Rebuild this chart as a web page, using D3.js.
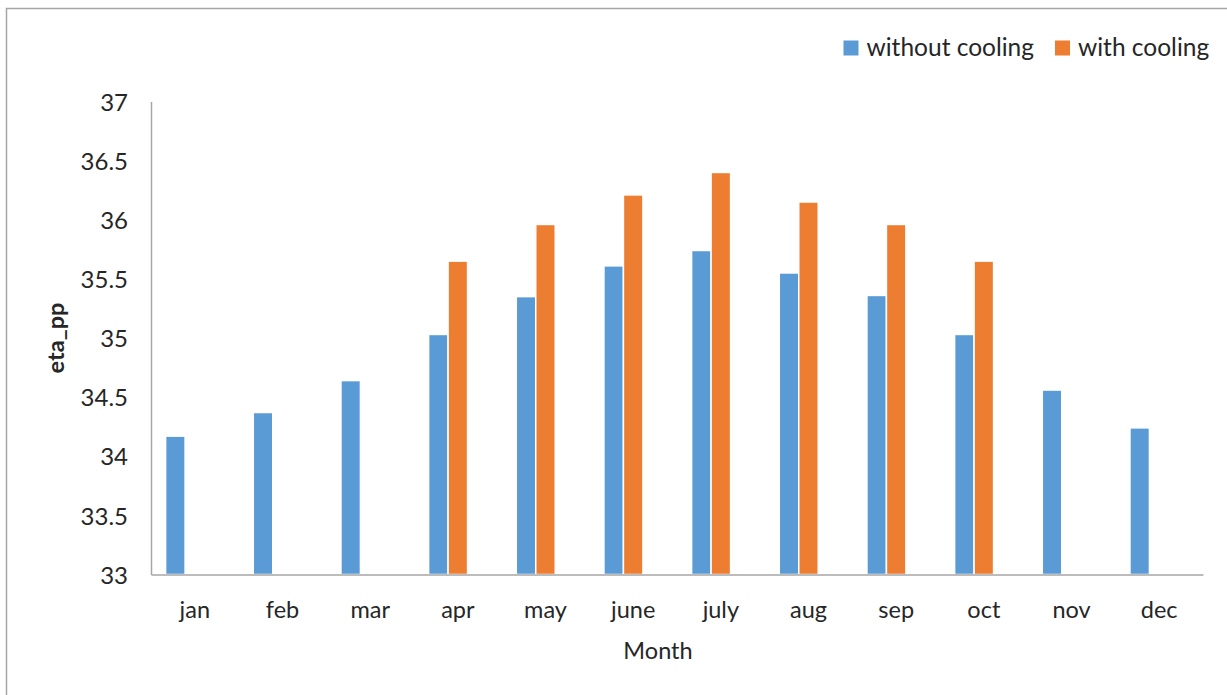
<!DOCTYPE html>
<html>
<head>
<meta charset="utf-8">
<script src="https://cdn.jsdelivr.net/npm/d3@7"></script>
<style>
  html, body { margin: 0; padding: 0; background: #fff; }
  svg { display: block; }
  text { font-family: Lato, "Open Sans", sans-serif; fill: #262626; }
</style>
</head>
<body>
<svg id="chart" width="1227" height="695"></svg>
<script>
const months = ["jan","feb","mar","apr","may","june","july","aug","sep","oct","nov","dec"];
const withoutCooling = [34.17, 34.37, 34.64, 35.03, 35.35, 35.61, 35.74, 35.55, 35.36, 35.03, 34.56, 34.24];
const withCooling = [null, null, null, 35.65, 35.96, 36.21, 36.40, 36.15, 35.96, 35.65, null, null];
const yTicks = [33, 33.5, 34, 34.5, 35, 35.5, 36, 36.5, 37];
const seriesNames = ["without cooling", "with cooling"];
const seriesColors = ["#5b9bd5", "#ed7d31"];

const svg = d3.select("#chart");
const W = 1227, H = 695;
const m = { left: 151, right: 1203, top: 101.5, bottom: 574.5 };

// outer frame
svg.append("rect")
  .attr("x", 6.5).attr("y", 8.5)
  .attr("width", W + 20).attr("height", H + 20)
  .attr("fill", "none").attr("stroke", "#a6a6a6").attr("stroke-width", 1.5);

const x0 = d3.scaleBand().domain(months).range([m.left, m.right])
  .paddingInner(1/3).paddingOuter(1/6);
// three slots per group (third slot is an empty series, as in the source)
const x1 = d3.scaleBand().domain([0, 1, 2]).range([0, x0.bandwidth()]);
const y = d3.scaleLinear().domain([33, 37]).range([m.bottom, m.top]);

const data = months.map((mo, i) => ({ mo, vals: [withoutCooling[i], withCooling[i]] }));

const groups = svg.append("g").selectAll("g").data(data).join("g")
  .attr("transform", d => `translate(${x0(d.mo)},0)`);
groups.selectAll("rect")
  .data(d => d.vals.map((v, k) => ({ v, k })).filter(e => e.v != null))
  .join("rect")
  .attr("x", e => x1(e.k))
  .attr("width", x1.bandwidth())
  .attr("y", e => y(e.v))
  .attr("height", e => y(33) - y(e.v))
  .attr("fill", e => seriesColors[e.k])
  .attr("stroke", "#ffffff").attr("stroke-width", 1.5);

// y axis
const yAxis = d3.axisLeft(y).tickValues(yTicks).tickSize(0).tickPadding(23)
  .tickFormat(d => String(d));
const gy = svg.append("g").attr("transform", `translate(${m.left},0)`).call(yAxis);
gy.select(".domain").attr("stroke", "#a6a6a6").attr("stroke-width", 1.5);
gy.selectAll("text").style("font-size", "24px").attr("fill", "#262626").attr("dy", "0.36em");

// x axis
const xAxis = d3.axisBottom(x0).tickSize(0).tickPadding(0);
const gx = svg.append("g").attr("transform", `translate(0,${m.bottom})`).call(xAxis);
gx.select(".domain").attr("stroke", "#a6a6a6").attr("stroke-width", 1.5);
gx.selectAll("text").style("font-size", "23.5px").attr("fill", "#262626")
  .attr("dy", null).attr("y", 43);

// axis titles
svg.append("text").attr("x", 658).attr("y", 659).attr("text-anchor", "middle")
  .style("font-size", "23.5px").text("Month");
svg.append("text").attr("transform", `translate(64,338) rotate(-90)`)
  .attr("text-anchor", "middle").style("font-size", "23.5px").style("font-weight", "bold")
  .text("eta_pp");

// legend
const legX = [843.5, 1055];
const leg = svg.append("g").selectAll("g").data(seriesNames).join("g")
  .attr("transform", (d, i) => `translate(${legX[i]},0)`);
leg.append("rect").attr("x", 0).attr("y", 40.5).attr("width", 15).attr("height", 15)
  .attr("fill", (d, i) => seriesColors[i]);
leg.append("text").attr("x", 23).attr("y", 55.5).style("font-size", "24.5px").text(d => d);
</script>
</body>
</html>
